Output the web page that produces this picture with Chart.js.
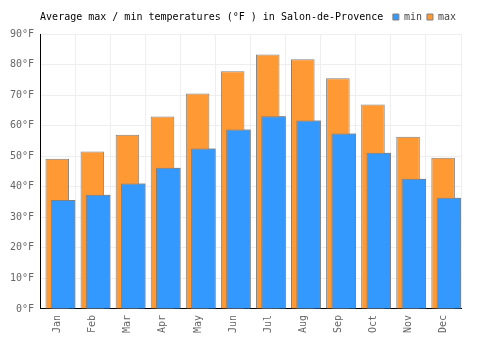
<!DOCTYPE html>
<html>
<head>
<meta charset="utf-8">
<script src="https://cdn.jsdelivr.net/npm/chart.js@4/dist/chart.umd.min.js"></script>
<style>
    html, body { margin: 0; padding: 0; background: #fff; }
    #graph-container-temps { width: 500px; height: 350px; }
</style>
</head>
<body>
<div id="graph-container-temps"><canvas id="chart-graph-temps" width="500" height="350"></canvas></div>
<script>
var months = ['Jan', 'Feb', 'Mar', 'Apr', 'May', 'Jun', 'Jul', 'Aug', 'Sep', 'Oct', 'Nov', 'Dec'];
var maxTemps = [49.2, 51.5, 57.0, 63.0, 70.5, 77.8, 83.3, 81.7, 75.5, 66.9, 56.4, 49.5];
var minTemps = [35.7, 37.4, 41.1, 46.2, 52.5, 58.7, 63.1, 61.7, 57.4, 51.1, 42.6, 36.4];
var yTicks = [0, 10, 20, 30, 40, 50, 60, 70, 80, 90];
var unit = '\u00b0F';

Chart.defaults.font.family = "'DejaVu Sans Mono', monospace";
Chart.defaults.font.size = 10;
Chart.defaults.color = '#666';

// max is drawn first by chart.js, so paint the min bars again on top
var minOnTop = {
    id: 'minOnTop',
    afterDatasetsDraw: function (chart) {
        chart.getDatasetMeta(1).controller.draw();
    }
};

new Chart(document.getElementById('chart-graph-temps').getContext('2d'), {
    type: 'bar',
    data: {
        labels: months,
        datasets: [{
            label: 'max',
            data: maxTemps,
            backgroundColor: '#ff9933',
            borderColor: '#808080',
            borderWidth: 1,
            categoryPercentage: 0.04,
            barPercentage: 33.6
        }, {
            label: 'min',
            data: minTemps,
            backgroundColor: '#3399ff',
            borderColor: '#808080',
            borderWidth: 1,
            categoryPercentage: 0.62,
            barPercentage: 2.26
        }]
    },
    plugins: [minOnTop],
    options: {
        responsive: false,
        animation: false,
        layout: { padding: { left: 4, right: 39, top: 7, bottom: 11 } },
        plugins: {
            // legend sits first, the title is pulled up onto the same line
            legend: {
                reverse: true,
                align: 'end',
                fullSize: false,
                weight: 3000,
                labels: { boxWidth: 6, boxHeight: 6, padding: 5, color: '#444' }
            },
            title: {
                display: true,
                text: 'Average max / min temperatures (' + unit + ' ) in Salon-de-Provence',
                align: 'start',
                fullSize: false,
                weight: 2000,
                color: '#000',
                font: { weight: 'normal', size: 10 },
                padding: { top: -21, bottom: 11 }
            },
            tooltip: { enabled: false }
        },
        scales: {
            x: {
                grid: { color: '#eeeeee', drawTicks: false },
                border: { color: '#000' },
                ticks: { autoSkip: false, minRotation: 90, maxRotation: 90, padding: 6 }
            },
            y: {
                min: yTicks[0],
                max: yTicks[yTicks.length - 1],
                grid: { color: '#eeeeee', drawTicks: false },
                border: { color: '#000' },
                ticks: {
                    stepSize: yTicks[1] - yTicks[0],
                    padding: 6,
                    callback: function (v) { return v + unit; }
                }
            }
        }
    }
});
</script>
</body>
</html>
